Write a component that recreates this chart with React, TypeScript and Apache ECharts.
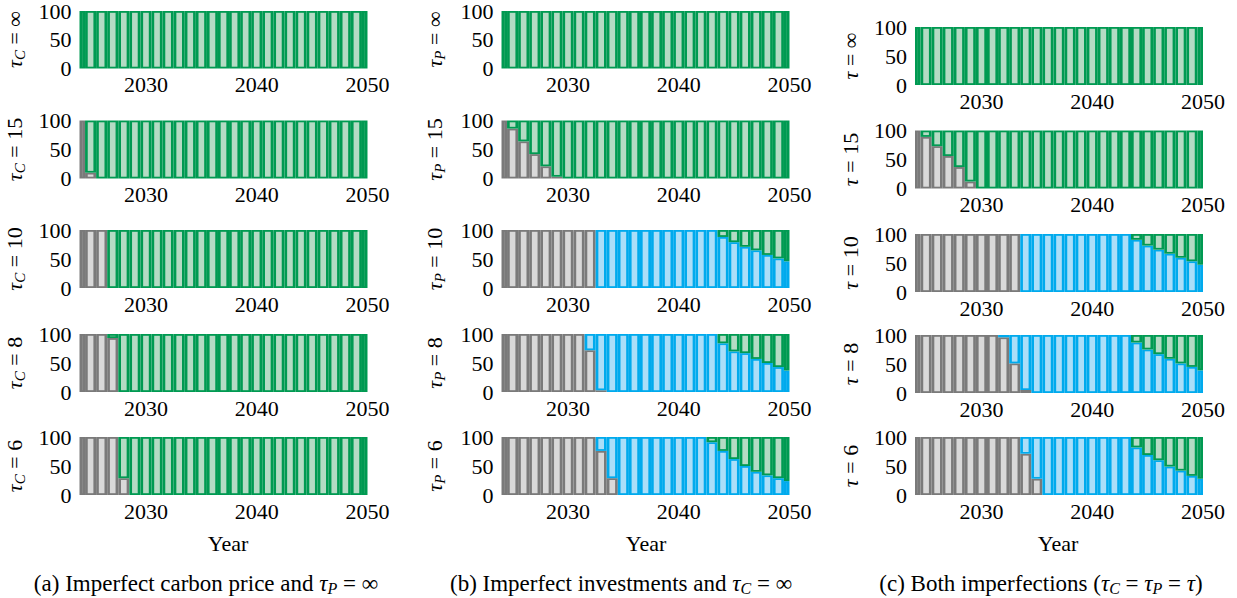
import React, { useEffect, useRef } from "react";
import * as echarts from "echarts";

// ---------- data ----------
const YEARS = [
  2024, 2025, 2026, 2027, 2028, 2029, 2030, 2031, 2032, 2033, 2034, 2035, 2036, 2037,
  2038, 2039, 2040, 2041, 2042, 2043, 2044, 2045, 2046, 2047, 2048, 2049, 2050,
];
const X_LABELS = [2030, 2040, 2050];
const Y_MIN = 0;
const Y_MAX = 100;
const Y_STEP = 50;

const NONE = [0, 0, 0, 0, 0, 0, 0, 0, 0, 0, 0, 0, 0, 0, 0, 0, 0, 0, 0, 0, 0, 0, 0, 0, 0, 0, 0];

// (a) imperfect carbon price, tau_P = inf  (grey share; remainder green)
const GREY_A15 = [100, 10, 0, 0, 0, 0, 0, 0, 0, 0, 0, 0, 0, 0, 0, 0, 0, 0, 0, 0, 0, 0, 0, 0, 0, 0, 0];
const GREY_A10 = [100, 100, 100, 0, 0, 0, 0, 0, 0, 0, 0, 0, 0, 0, 0, 0, 0, 0, 0, 0, 0, 0, 0, 0, 0, 0, 0];
const GREY_A8 = [100, 100, 100, 93, 0, 0, 0, 0, 0, 0, 0, 0, 0, 0, 0, 0, 0, 0, 0, 0, 0, 0, 0, 0, 0, 0, 0];
const GREY_A6 = [100, 100, 100, 100, 29, 0, 0, 0, 0, 0, 0, 0, 0, 0, 0, 0, 0, 0, 0, 0, 0, 0, 0, 0, 0, 0, 0];

// (b) imperfect investments, tau_C = inf
const GREY_B15 = [100, 86, 64, 42, 21, 3, 0, 0, 0, 0, 0, 0, 0, 0, 0, 0, 0, 0, 0, 0, 0, 0, 0, 0, 0, 0, 0];
const GREY_B10 = [100, 100, 100, 100, 100, 100, 100, 100, 100, 0, 0, 0, 0, 0, 0, 0, 0, 0, 0, 0, 0, 0, 0, 0, 0, 0, 0];
const BLUE_B10 = [0, 0, 0, 0, 0, 0, 0, 0, 0, 100, 100, 100, 100, 100, 100, 100, 100, 100, 100, 100, 88, 79, 71, 65, 57, 51, 46];
const GREY_B8 = [100, 100, 100, 100, 100, 100, 100, 100, 72, 3, 0, 0, 0, 0, 0, 0, 0, 0, 0, 0, 0, 0, 0, 0, 0, 0, 0];
const BLUE_B8 = [0, 0, 0, 0, 0, 0, 0, 0, 28, 97, 100, 100, 100, 100, 100, 100, 100, 100, 100, 100, 84, 70, 67, 57, 50, 43, 37];
const GREY_B6 = [100, 100, 100, 100, 100, 100, 100, 100, 100, 76, 29, 0, 0, 0, 0, 0, 0, 0, 0, 0, 0, 0, 0, 0, 0, 0, 0];
const BLUE_B6 = [0, 0, 0, 0, 0, 0, 0, 0, 0, 24, 71, 100, 100, 100, 100, 100, 100, 100, 100, 91, 76, 62, 50, 40, 34, 29, 24];

// (c) both imperfections
const GREY_C15 = [100, 89, 73, 56, 37, 12, 0, 0, 0, 0, 0, 0, 0, 0, 0, 0, 0, 0, 0, 0, 0, 0, 0, 0, 0, 0, 0];
const GREY_C10 = [100, 100, 100, 100, 100, 100, 100, 100, 100, 100, 0, 0, 0, 0, 0, 0, 0, 0, 0, 0, 0, 0, 0, 0, 0, 0, 0];
const BLUE_C10 = [0, 0, 0, 0, 0, 0, 0, 0, 0, 0, 100, 100, 100, 100, 100, 100, 100, 100, 100, 100, 90, 80, 73, 66, 59, 53, 47];
const GREY_C8 = [100, 100, 100, 100, 100, 100, 100, 100, 96, 51, 5, 0, 0, 0, 0, 0, 0, 0, 0, 0, 0, 0, 0, 0, 0, 0, 0];
const BLUE_C8 = [0, 0, 0, 0, 0, 0, 0, 0, 4, 49, 95, 100, 100, 100, 100, 100, 100, 100, 100, 100, 87, 75, 67, 59, 51, 45, 39];
const GREY_C6 = [100, 100, 100, 100, 100, 100, 100, 100, 100, 100, 71, 28, 0, 0, 0, 0, 0, 0, 0, 0, 0, 0, 0, 0, 0, 0, 0];
const BLUE_C6 = [0, 0, 0, 0, 0, 0, 0, 0, 0, 0, 29, 72, 100, 100, 100, 100, 100, 100, 100, 100, 82, 69, 60, 49, 42, 33, 28];

const ROW_VALUES = ["∞", "15", "10", "8", "6"];
const COL_SUB = ["C", "P", ""];

const PANELS = [
  { col: 0, row: 0, grey: NONE, blue: NONE },
  { col: 0, row: 1, grey: GREY_A15, blue: NONE },
  { col: 0, row: 2, grey: GREY_A10, blue: NONE },
  { col: 0, row: 3, grey: GREY_A8, blue: NONE },
  { col: 0, row: 4, grey: GREY_A6, blue: NONE },
  { col: 1, row: 0, grey: NONE, blue: NONE },
  { col: 1, row: 1, grey: GREY_B15, blue: NONE },
  { col: 1, row: 2, grey: GREY_B10, blue: BLUE_B10 },
  { col: 1, row: 3, grey: GREY_B8, blue: BLUE_B8 },
  { col: 1, row: 4, grey: GREY_B6, blue: BLUE_B6 },
  { col: 2, row: 0, grey: NONE, blue: NONE },
  { col: 2, row: 1, grey: GREY_C15, blue: NONE },
  { col: 2, row: 2, grey: GREY_C10, blue: BLUE_C10 },
  { col: 2, row: 3, grey: GREY_C8, blue: BLUE_C8 },
  { col: 2, row: 4, grey: GREY_C6, blue: BLUE_C6 },
];

// ---------- layout & style ----------
const W = 1237;
const H = 598;
const COL_LEFT = [79.5, 501.5, 915];
const ROW_TOP = [
  [10.5, 120.5, 230, 334, 437],
  [10.5, 120.5, 230, 334, 437],
  [27, 130.5, 234, 335, 437],
];
const PLOT_W = 288;
const PLOT_H = 58;
const NAME_X = [14, 434, 850];
const YEAR_X = [228, 646, 1058];
const YEAR_Y = 543;
const CAP_X = [206, 621, 1041];
const CAP_Y = 583;
const FONT = "Liberation Serif";
const FS = 22;
const CAP_FS = 23;

const GREY = { dark: "#7a7a7a", light: "#d9d9d9" };
const BLUE = { dark: "#00aaed", light: "#abdef8" };
const GREEN = { dark: "#009a52", light: "#b4dbc4" };
const INSET_X = 2.7;
const INSET_Y = 1.8;

const makeRich = (fs: number) => ({
  g: { fontFamily: FONT, fontStyle: "italic", fontSize: fs, lineHeight: 26, verticalAlign: "middle" },
  s: { fontFamily: FONT, fontStyle: "italic", fontSize: Math.round(fs * 0.7), lineHeight: 12, verticalAlign: "bottom" },
  n: { fontFamily: FONT, fontSize: fs, lineHeight: 26, verticalAlign: "middle" },
});

const CAPTIONS = [
  "{n|(a) Imperfect carbon price and }{g|τ}{s|P}{n| = ∞}",
  "{n|(b) Imperfect investments and }{g|τ}{s|C}{n| = ∞}",
  "{n|(c) Both imperfections (}{g|τ}{s|C}{n| = }{g|τ}{s|P}{n| = }{g|τ}{n|)}",
];

function makeRender(c: { dark: string; light: string }) {
  return (params: any, api: any) => {
    const yr = api.value(0);
    const lo = api.value(1);
    const hi = api.value(2);
    if (!(hi > lo)) return null;
    const a = api.coord([yr - 0.5, hi]);
    const b = api.coord([yr + 0.5, lo]);
    const cs = params.coordSys;
    const outer = echarts.graphic.clipRectByRect(
      { x: a[0], y: a[1], width: b[0] - a[0], height: b[1] - a[1] },
      { x: cs.x, y: cs.y, width: cs.width, height: cs.height }
    );
    if (!outer) return null;
    const ix = Math.min(INSET_X, outer.width / 2);
    const iy = Math.min(INSET_Y, outer.height / 2);
    return {
      type: "group",
      children: [
        { type: "rect", shape: { x: outer.x, y: outer.y, width: outer.width, height: outer.height }, style: { fill: c.dark } },
        {
          type: "rect",
          shape: { x: outer.x + ix, y: outer.y + iy, width: Math.max(0, outer.width - 2 * ix), height: Math.max(0, outer.height - 2 * iy) },
          style: { fill: c.light },
        },
      ],
    };
  };
}

function buildOption() {
  const grid: any[] = [];
  const xAxis: any[] = [];
  const yAxis: any[] = [];
  const series: any[] = [];
  const graphic: any[] = [];

  PANELS.forEach((p, i) => {
    const top = ROW_TOP[p.col][p.row];
    grid.push({ left: COL_LEFT[p.col], top, width: PLOT_W, height: PLOT_H, containLabel: false });
    xAxis.push({
      type: "value",
      gridIndex: i,
      min: YEARS[0],
      max: YEARS[YEARS.length - 1],
      interval: 2,
      axisLine: { show: false },
      axisTick: { show: false },
      splitLine: { show: false },
      axisLabel: {
        showMinLabel: true,
        showMaxLabel: true,
        margin: 5,
        fontFamily: FONT,
        fontSize: FS,
        color: "#000",
        formatter: (v: number) => (X_LABELS.indexOf(v) >= 0 ? String(v) : ""),
      },
    });
    yAxis.push({
      type: "value",
      gridIndex: i,
      min: Y_MIN,
      max: Y_MAX,
      interval: Y_STEP,
      axisLine: { show: false },
      axisTick: { show: false },
      splitLine: { show: false },
      axisLabel: { showMinLabel: true, showMaxLabel: true, margin: 8, fontFamily: FONT, fontSize: FS, color: "#000" },
    });

    const greyData = YEARS.map((y, k) => [y, 0, p.grey[k]]);
    const blueData = YEARS.map((y, k) => [y, p.grey[k], p.grey[k] + p.blue[k]]);
    const greenData = YEARS.map((y, k) => [y, p.grey[k] + p.blue[k], Y_MAX]);
    [
      [greyData, GREY],
      [blueData, BLUE],
      [greenData, GREEN],
    ].forEach(([data, c]: any) => {
      series.push({
        type: "custom",
        xAxisIndex: i,
        yAxisIndex: i,
        data,
        encode: { x: 0, y: [1, 2] },
        renderItem: makeRender(c),
        silent: true,
      });
    });

    const sub = COL_SUB[p.col];
    const txt = "{g|τ}" + (sub ? "{s|" + sub + "}" : "") + "{n| = " + ROW_VALUES[p.row] + "}";
    graphic.push({
      type: "text",
      x: NAME_X[p.col],
      y: top + PLOT_H / 2,
      rotation: Math.PI / 2,
      style: { text: txt, rich: makeRich(FS), fontFamily: FONT, fontSize: FS, fill: "#000", align: "center", verticalAlign: "middle" },
    });
  });

  for (let c = 0; c < 3; c++) {
    graphic.push({
      type: "text",
      x: YEAR_X[c],
      y: YEAR_Y,
      style: { text: "Year", fontFamily: FONT, fontSize: FS, fill: "#000", align: "center", verticalAlign: "middle" },
    });
    graphic.push({
      type: "text",
      x: CAP_X[c],
      y: CAP_Y,
      style: { text: CAPTIONS[c], rich: makeRich(CAP_FS), fontFamily: FONT, fontSize: CAP_FS, fill: "#000", align: "center", verticalAlign: "middle" },
    });
  }

  return {
    animation: false,
    backgroundColor: "#ffffff",
    textStyle: { fontFamily: FONT, color: "#000" },
    grid,
    xAxis,
    yAxis,
    series,
    graphic,
  };
}

export default function App() {
  const ref = useRef<HTMLDivElement>(null);
  useEffect(() => {
    if (!ref.current) return;
    const chart = echarts.init(ref.current, undefined, { renderer: "svg" });
    chart.setOption(buildOption() as any);
    return () => chart.dispose();
  }, []);
  return (
    <div
      ref={ref}
      style={{ position: "absolute", left: 0, top: 0, width: W, height: H, background: "#fff" }}
    />
  );
}
